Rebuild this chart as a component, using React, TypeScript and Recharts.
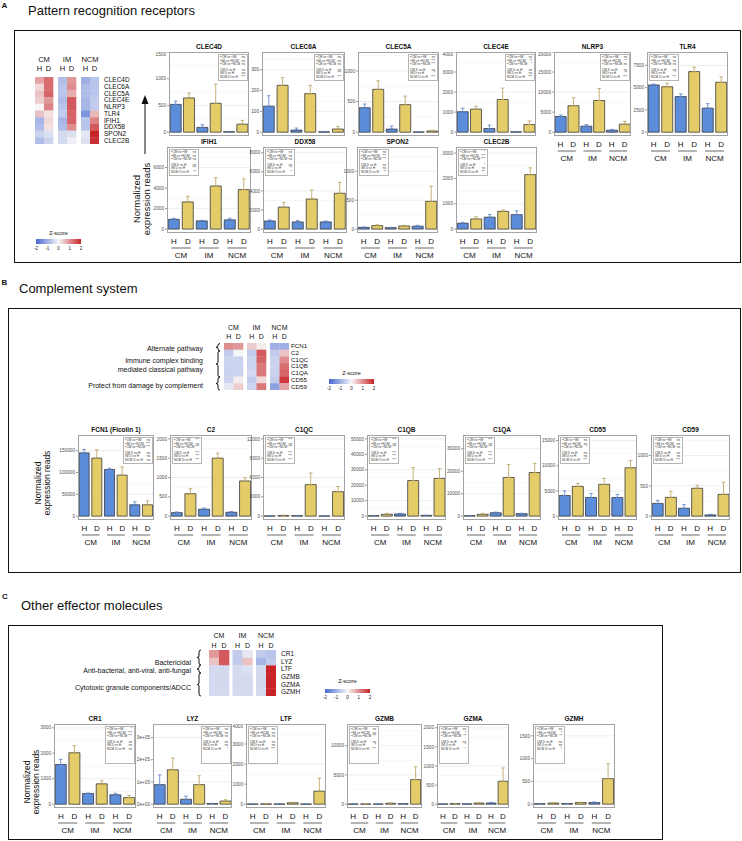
import React from 'react'
import {
  BarChart,
  Bar,
  XAxis,
  YAxis,
  ErrorBar,
  Cell,
  CartesianGrid,
  ScatterChart,
  Scatter,
} from 'recharts'

const FONT = '"Liberation Sans", Arial, Helvetica, sans-serif'
const BLUE = '#5b8ddb'
const GOLD = '#e4cd69'

const groups = ['CM', 'IM', 'NCM']
const conditions = ['H', 'D']
const statLabels = ['ᴰCM vs ᴰIM', 'ᴰIM vs ᴰNCM', 'ᴰCM vs ᴰNCM', 'CM D vs H', 'IM D vs H', 'NCM D vs H']

// ---- A: pattern recognition receptors ----
const prrGenes = ['CLEC4D', 'CLEC6A', 'CLEC5A', 'CLEC4E', 'NLRP3', 'TLR4', 'IFIH1', 'DDX58', 'SPON2', 'CLEC2B']
const prrZ = [
  [0.8, 1.3, -0.8, 0.9, -1.0, -0.7],
  [0.3, 1.3, -0.7, 1.0, -0.8, -0.7],
  [0.5, 1.4, -0.7, 0.7, -0.8, -0.7],
  [0.4, 0.9, -0.8, 1.5, -0.9, -0.6],
  [0.0, 1.1, -0.7, 1.5, -0.9, -0.6],
  [0.5, 0.2, -0.6, 1.4, -1.4, 0.6],
  [-0.9, 0.3, -0.9, 1.4, -0.7, 1.1],
  [-0.8, 0.2, -0.8, 1.0, -0.7, 1.5],
  [-0.5, -0.3, -0.4, -0.3, -0.2, 2.0],
  [-0.8, -0.5, -0.4, -0.1, -0.3, 1.9],
]
const prrMean = [
  [520, 640, 90, 540, 10, 150],
  [125, 225, 10, 185, 2, 15],
  [400, 700, 50, 450, 5, 20],
  [1020, 1150, 180, 1630, 20, 380],
  [3900, 6600, 1500, 7900, 500, 2000],
  [5300, 5100, 4000, 6800, 2700, 5600],
  [950, 2650, 800, 4200, 900, 3850],
  [850, 2300, 750, 3150, 750, 3750],
  [30, 60, 25, 55, 50, 480],
  [230, 400, 470, 700, 570, 2150],
]
const prrSe = [
  [60, 90, 50, 360, 5, 70],
  [50, 37, 10, 40, 2, 13],
  [60, 140, 50, 140, 3, 10],
  [180, 150, 170, 570, 10, 180],
  [400, 2000, 400, 3000, 200, 700],
  [100, 400, 300, 500, 500, 600],
  [100, 550, 50, 800, 150, 1050],
  [100, 500, 150, 950, 100, 1150],
  [5, 15, 5, 10, 15, 260],
  [40, 80, 110, 50, 150, 270],
]
const prrTicks = [
  [0, 500, 1000, 1500],
  [0, 100, 200, 300],
  [0, 500, 1000],
  [0, 1000, 2000, 3000, 4000],
  [0, 5000, 10000, 15000, 20000],
  [0, 2500, 5000, 7500],
  [0, 2000, 4000, 6000],
  [0, 2000, 4000, 6000, 8000],
  [0, 500, 1000],
  [0, 1000, 2000, 3000],
]
const prrTop = [1500, 385, 1310, 4000, 20000, 9000, 8000, 8600, 1420, 3240]
const prrStats = [
  ['ns', 'ns', 'ns', 'ns', 'ns', '***'],
  ['ns', 'ns', 'ns', 'ns', '***', '***'],
  ['ns', '***', '***', 'ns', '*', '***'],
  ['ns', '**', '*', 'ns', 'ns', '***'],
  ['ns', '**', 'ns', 'ns', '**', '***'],
  ['ns', 'ns', 'ns', 'ns', '*', '***'],
  ['ns', 'ns', 'ns', 'ns', '***', '**'],
  ['ns', 'ns', 'ns', 'ns', '**', '*'],
  ['ns', '***', '***', 'ns', 'ns', '**'],
  ['*', '***', '***', '*', 'ns', '***'],
]

// ---- B: complement system ----
const compGenes = ['FCN1', 'C2', 'C1QC', 'C1QB', 'C1QA', 'CD55', 'CD59']
const compTitles = ['FCN1 (Ficolin 1)', 'C2', 'C1QC', 'C1QB', 'C1QA', 'CD55', 'CD59']
const compZ = [
  [1.0, 0.9, 0.4, 0.1, -1.0, -1.0],
  [-0.6, 0.0, -0.6, 1.5, -0.6, 0.5],
  [-0.5, -0.5, -0.5, 1.4, -0.5, 1.0],
  [-0.5, -0.5, -0.5, 1.2, -0.5, 1.3],
  [-0.5, -0.5, -0.4, 1.2, -0.5, 1.4],
  [-0.5, 0.1, -0.6, 0.3, -0.6, 1.8],
  [-0.2, 0.4, -0.5, 1.2, -1.2, 0.8],
]
const compMean = [
  [145000, 133000, 107000, 94000, 26000, 26000],
  [90, 580, 180, 1500, 100, 910],
  [30, 100, 80, 4900, 30, 3800],
  [300, 1200, 1400, 23000, 500, 24400],
  [200, 800, 1500, 17200, 1100, 19400],
  [4100, 5900, 3700, 6300, 3700, 9600],
  [210, 310, 130, 460, 20, 360],
]
const compSe = [
  [8000, 19000, 3000, 19000, 7000, 9000],
  [20, 130, 30, 130, 20, 80],
  [10, 60, 20, 1800, 10, 800],
  [100, 600, 400, 8400, 100, 6400],
  [50, 400, 300, 5800, 200, 4100],
  [900, 600, 800, 1200, 600, 1400],
  [50, 100, 60, 50, 10, 200],
]
const compTicks = [
  [0, 50000, 100000, 150000],
  [0, 500, 1000, 1500, 2000],
  [0, 3000, 6000, 9000, 12000],
  [0, 10000, 20000, 30000, 40000, 50000],
  [0, 10000, 20000, 30000],
  [0, 5000, 10000, 15000],
  [0, 500, 1000],
]
const compTop = [186000, 2100, 12600, 52500, 36100, 16100, 1340]
const compStats = [
  ['ns', '***', '***', 'ns', 'ns', 'ns'],
  ['***', 'ns', '***', '***', '***', '***'],
  ['***', 'ns', '***', '***', '***', '***'],
  ['***', 'ns', '***', '***', '***', '***'],
  ['***', 'ns', '***', '***', '***', '***'],
  ['ns', 'ns', '*', 'ns', 'ns', '***'],
  ['ns', 'ns', 'ns', 'ns', 'ns', '***'],
]

// ---- C: other effector molecules ----
const effGenes = ['CR1', 'LYZ', 'LTF', 'GZMB', 'GZMA', 'GZMH']
const effZ = [
  [0.9, 1.5, -0.6, -0.2, -0.6, -0.7],
  [0.5, 1.5, -0.6, 0.5, -0.9, -0.6],
  [-0.4, -0.4, -0.4, -0.3, -0.4, 2.0],
  [-0.4, -0.4, -0.4, -0.4, -0.4, 2.0],
  [-0.4, -0.4, -0.4, -0.4, -0.4, 2.0],
  [-0.4, -0.4, -0.4, -0.4, -0.4, 2.0],
]
const effMean = [
  [1560, 2020, 420, 800, 370, 260],
  [88000, 155000, 22000, 88000, 3000, 14000],
  [5, 15, 10, 70, 5, 650],
  [20, 40, 30, 150, 80, 4200],
  [5, 15, 8, 30, 30, 600],
  [10, 25, 15, 35, 35, 560],
]
const effSe = [
  [200, 280, 20, 120, 60, 80],
  [44000, 53000, 14000, 40000, 1000, 6000],
  [2, 5, 3, 20, 2, 650],
  [10, 20, 10, 60, 30, 2200],
  [2, 5, 3, 10, 10, 350],
  [3, 5, 3, 8, 15, 330],
]
const effTicks = [
  [0, 1000, 2000, 3000],
  [0, 100000, 200000, 300000],
  [0, 1000, 2000, 3000, 4000],
  [0, 5000, 10000],
  [0, 500, 1000, 1500, 2000],
  [0, 500, 1000, 1500],
]
const effTop = [3150, 361000, 4000, 13700, 2100, 1760]
const effStats = [
  ['*', '***', '***', 'ns', 'ns', 'ns'],
  ['ns', 'ns', 'ns', 'ns', 'ns', '*'],
  ['ns', 'ns', 'ns', 'ns', 'ns', '***'],
  ['ns', 'ns', '***', 'ns', '*', '***'],
  ['ns', '*', '**', 'ns', '*', '*'],
  ['ns', '*', '**', 'ns', 'ns', '*'],
]

// plot-area boxes (layout only)
const prrBoxes = [
  { x: 169, y: 52, w: 80, h: 84, showX: false, leg: 'right' },
  { x: 262, y: 52, w: 83, h: 84, showX: false, leg: 'right' },
  { x: 358, y: 52, w: 81, h: 84, showX: false, leg: 'right' },
  { x: 456, y: 52, w: 80, h: 84, showX: false, leg: 'right' },
  { x: 554, y: 52, w: 77, h: 84, showX: true, leg: 'right' },
  { x: 647, y: 52, w: 81, h: 84, showX: true, leg: 'left' },
  { x: 167, y: 147, w: 84, h: 86, showX: true, leg: 'left' },
  { x: 263, y: 147, w: 84, h: 86, showX: true, leg: 'left' },
  { x: 357, y: 147, w: 81, h: 86, showX: true, leg: 'left' },
  { x: 456, y: 147, w: 81, h: 86, showX: true, leg: 'left' },
]
const compBoxes = [
  { x: 78, w: 76, leg: 'right' },
  { x: 170, w: 82, leg: 'left' },
  { x: 263, w: 82, leg: 'left' },
  { x: 367, w: 79, leg: 'left' },
  { x: 463, w: 78, leg: 'left' },
  { x: 558, w: 79, leg: 'left' },
  { x: 651, w: 79, leg: 'left' },
].map((b) => ({ ...b, y: 435, h: 85, showX: true }))
const effBoxes = [
  { x: 54, w: 82, leg: 'right' },
  { x: 153, w: 79, leg: 'right' },
  { x: 246, w: 80, leg: 'left' },
  { x: 347, w: 75, leg: 'left' },
  { x: 437, w: 72, leg: 'left' },
  { x: 533, w: 82, leg: 'left' },
].map((b) => ({ ...b, y: 724, h: 84, showX: true }))

const LO = [72, 104, 212]
const MID = [246, 246, 246]
const HI = [200, 36, 40]
function zColor(z: number) {
  const t = Math.max(-2, Math.min(2, z)) / 2
  const end = t < 0 ? LO : HI
  const a = Math.abs(t)
  const c = MID.map((m, i) => Math.round(m + (end[i] - m) * a))
  return `rgb(${c[0]},${c[1]},${c[2]})`
}

function T({ x, y, size, children, anchor = 'middle', bold = false, color = '#111', rotate = false }: any) {
  const tx = anchor === 'middle' ? '-50%' : anchor === 'end' ? '-100%' : '0'
  return (
    <div
      style={{
        position: 'absolute',
        left: x,
        top: y,
        fontSize: size,
        fontFamily: FONT,
        fontWeight: bold ? 700 : 400,
        color,
        whiteSpace: 'nowrap',
        lineHeight: 1,
        transform: rotate ? 'translate(-50%,-50%) rotate(-90deg)' : `translate(${tx},-50%)`,
      }}
    >
      {children}
    </div>
  )
}

function XTick({ x, payload, plotBottom, band }: any) {
  const [g, c] = String(payload.value).split(' ')
  const gx = x - band / 2
  return (
    <g fontFamily={FONT}>
      <text x={x} y={plotBottom + 11} fontSize={8} textAnchor="middle" fill="#111">
        {c}
      </text>
      {c === 'D' && (
        <>
          <line x1={gx - band * 0.7} x2={gx + band * 0.7} y1={plotBottom + 15} y2={plotBottom + 15} stroke="#8c8c8c" strokeWidth={1.3} />
          <text x={gx} y={plotBottom + 25} fontSize={8} textAnchor="middle" fill="#111">
            {g}
          </text>
        </>
      )}
    </g>
  )
}

function StatsBox({ stats, box, h }: any) {
  const w = 30
  const left = box.leg === 'right' ? box.x + box.w - w - 1.5 : box.x + 1.5
  return (
    <div
      style={{
        position: 'absolute',
        left,
        top: box.y + 1.5,
        width: w,
        height: h,
        background: '#fff',
        border: '0.6px solid #b5b5b5',
        boxSizing: 'border-box',
        fontFamily: FONT,
        fontSize: 3.2,
        color: '#333',
        padding: '1.5px 1.5px',
      }}
    >
      {statLabels.map((l, i) => (
        <div key={l} style={{ display: 'flex', justifyContent: 'space-between', lineHeight: '3.6px', marginTop: i === 3 ? 2 : 0 }}>
          <span>{l}</span>
          <span>{stats[i]}</span>
        </div>
      ))}
    </div>
  )
}

function MiniBar({ title, mean, se, ticks, top, stats, box, legH, fmt }: any) {
  const axisW = 30
  const xH = box.showX ? 30 : 0
  const band = box.w / 6
  const data: any[] = []
  groups.forEach((g, gi) =>
    conditions.forEach((c, ci) => {
      const i = gi * 2 + ci
      data.push({
        key: `${g} ${c}`,
        value: mean[i],
        errH: c === 'H' ? [0, se[i]] : undefined,
        errD: c === 'D' ? [0, se[i]] : undefined,
      })
    }),
  )
  const step = ticks[1] - ticks[0]
  const minor = ticks.map((t: number) => t + step / 2).filter((v: number) => v < top)
  return (
    <>
      <div style={{ position: 'absolute', left: box.x - axisW, top: box.y }}>
        <BarChart
          width={axisW + box.w}
          height={box.h + xH}
          data={data}
          margin={{ top: 0, right: 0, bottom: 0, left: 0 }}
          barCategoryGap="9%"
        >
          <CartesianGrid horizontal vertical={false} horizontalValues={minor} stroke="#f2f2f2" strokeWidth={0.6} />
          <CartesianGrid horizontal vertical={false} horizontalValues={ticks} stroke="#e3e3e3" strokeWidth={0.6} />
          <XAxis
            dataKey="key"
            hide={!box.showX}
            height={xH}
            interval={0}
            axisLine={false}
            tickLine={false}
            tick={(p: any) => <XTick {...p} plotBottom={box.h} band={band} />}
          />
          <YAxis
            type="number"
            domain={[-top / 21, top]}
            allowDataOverflow
            ticks={ticks}
            width={axisW}
            tickSize={2}
            tickMargin={1}
            axisLine={false}
            tick={{ fontSize: 4.7, fill: '#4d4d4d', fontFamily: FONT }}
            tickLine={{ stroke: '#555', strokeWidth: 0.6 }}
            tickFormatter={fmt}
          />
          <Bar dataKey="value" isAnimationActive={false} stroke="#3a3a3a" strokeWidth={0.8}>
            {data.map((d) => (
              <Cell key={d.key} fill={d.key.endsWith('H') ? BLUE : GOLD} />
            ))}
            <ErrorBar dataKey="errH" width={1.8} stroke="#5b7fc9" strokeWidth={0.8} />
            <ErrorBar dataKey="errD" width={1.8} stroke="#b59f58" strokeWidth={0.8} />
          </Bar>
        </BarChart>
      </div>
      <div
        style={{
          position: 'absolute',
          left: box.x,
          top: box.y,
          width: box.w,
          height: box.h,
          border: '1px solid #a3a3a3',
          boxSizing: 'border-box',
        }}
      />
      <T x={box.x + box.w / 2} y={box.y - 5} size={6.5} bold>
        {title}
      </T>
      <StatsBox stats={stats} box={box} h={legH} />
    </>
  )
}

function Heatmap({ genes, z, left, top, cellW, cellH, gap, labelX, labelSize, headSize, headY, hdY }: any) {
  const gapU = gap / cellW
  const units = 6 + 2 * gapU
  const cells: any[] = []
  z.forEach((row: number[], r: number) =>
    row.forEach((v, i) =>
      cells.push({ col: Math.floor(i / 2) * (2 + gapU) + (i % 2) + 0.5, row: r + 0.5, z: v }),
    ),
  )
  return (
    <>
      <div style={{ position: 'absolute', left, top }}>
        <ScatterChart width={cellW * units} height={cellH * genes.length} margin={{ top: 0, right: 0, bottom: 0, left: 0 }}>
          <XAxis type="number" dataKey="col" domain={[0, units]} allowDataOverflow hide />
          <YAxis type="number" dataKey="row" domain={[0, genes.length]} allowDataOverflow reversed hide />
          <Scatter
            data={cells}
            isAnimationActive={false}
            shape={(p: any) => (
              <rect x={p.cx - cellW / 2} y={p.cy - cellH / 2} width={cellW + 0.3} height={cellH + 0.3} fill={zColor(p.payload.z)} />
            )}
          />
        </ScatterChart>
      </div>
      {groups.map((g, gi) => {
        const gl = left + gi * (2 * cellW + gap)
        return (
          <React.Fragment key={g}>
            <T x={gl + cellW} y={headY} size={headSize}>
              {g}
            </T>
            {conditions.map((c, ci) => (
              <T key={c} x={gl + ci * cellW + cellW / 2} y={hdY} size={headSize}>
                {c}
              </T>
            ))}
          </React.Fragment>
        )
      })}
      {genes.map((g: string, r: number) => (
        <T key={g} x={labelX} y={top + (r + 0.5) * cellH} size={labelSize} anchor="start">
          {g}
        </T>
      ))}
    </>
  )
}

function ZLegend({ x0, x1, y0, y1, labelY, tickY }: any) {
  const vals = [-2, -1, 0, 1, 2]
  return (
    <>
      <T x={(x0 + x1) / 2} y={labelY} size={5.5}>
        Z-score
      </T>
      <div
        style={{
          position: 'absolute',
          left: x0,
          top: y0,
          width: x1 - x0,
          height: y1 - y0,
          background: `linear-gradient(to right, ${zColor(-2)}, ${zColor(0)}, ${zColor(2)})`,
        }}
      />
      {vals.map((v) => (
        <T key={v} x={x0 + ((v + 2) / 4) * (x1 - x0)} y={tickY} size={4.5}>
          {v}
        </T>
      ))}
    </>
  )
}

function brace(x: number, y0: number, y1: number) {
  const m = (y0 + y1) / 2
  return `M ${x + 4} ${y0} Q ${x + 2} ${y0} ${x + 2} ${y0 + 2} L ${x + 2} ${m - 1.5} Q ${x + 2} ${m} ${x} ${m} Q ${x + 2} ${m} ${x + 2} ${m + 1.5} L ${x + 2} ${y1 - 2} Q ${x + 2} ${y1} ${x + 4} ${y1}`
}

function PanelBox({ x0, y0, x1, y1 }: any) {
  return (
    <div
      style={{
        position: 'absolute',
        left: x0,
        top: y0,
        width: x1 - x0,
        height: y1 - y0,
        border: '1.5px solid #111',
        boxSizing: 'border-box',
      }}
    />
  )
}

const sci = (v: number) => (v === 0 ? '0e+00' : `${v / 100000}e+05`)

export default function App() {
  return (
    <div
      style={{
        position: 'absolute',
        left: 0,
        top: 0,
        width: 742,
        height: 841,
        background: '#fff',
        overflow: 'hidden',
        fontFamily: FONT,
      }}
    >
      <svg width={742} height={841} style={{ position: 'absolute', left: 0, top: 0 }}>
        {/* arrow in A */}
        <line x1={145} x2={145} y1={102} y2={154} stroke="#111" strokeWidth={1} />
        <path d="M 141.5 104 L 145 95 L 148.5 104 Z" fill="#111" />
        {/* braces B */}
        <g fill="none" stroke="#111" strokeWidth={1}>
          <path d={brace(216, 343.5, 351)} />
          <path d={brace(216, 351, 377)} />
          <path d={brace(216, 377, 390)} />
          <path d={brace(197, 650, 665)} />
          <path d={brace(197, 665, 673)} />
          <path d={brace(197, 673, 696)} />
        </g>
      </svg>

      {/* ---------- A ---------- */}
      <T x={1.5} y={6} size={8} bold anchor="start">
        A
      </T>
      <T x={28} y={9.5} size={13} anchor="start">
        Pattern recognition receptors
      </T>
      <PanelBox x0={14} y0={30} x1={741} y1={263} />
      <Heatmap
        genes={prrGenes}
        z={prrZ}
        left={35}
        top={77}
        cellW={9}
        cellH={6.7}
        gap={5}
        labelX={104}
        labelSize={6.5}
        headSize={7.5}
        headY={60}
        hdY={69}
      />
      <ZLegend x0={36} x1={81} y0={239} y1={244} labelY={234} tickY={248.5} />
      <T x={137} y={199} size={9.5} rotate>
        Normalized
      </T>
      <T x={147} y={199} size={9.5} rotate>
        expression reads
      </T>
      {prrGenes.map((g, i) => (
        <MiniBar
          key={g}
          title={g}
          mean={prrMean[i]}
          se={prrSe[i]}
          ticks={prrTicks[i]}
          top={prrTop[i]}
          stats={prrStats[i]}
          box={prrBoxes[i]}
          legH={27}
        />
      ))}

      {/* ---------- B ---------- */}
      <T x={1.5} y={283} size={8} bold anchor="start">
        B
      </T>
      <T x={19} y={288} size={13} anchor="start">
        Complement system
      </T>
      <PanelBox x0={8} y0={308} x1={741} y1={573} />
      <Heatmap
        genes={compGenes}
        z={compZ}
        left={224}
        top={343}
        cellW={9.5}
        cellH={6.7}
        gap={4}
        labelX={291}
        labelSize={6.2}
        headSize={7}
        headY={327}
        hdY={335.5}
      />
      <T x={203} y={348} size={7} anchor="end">
        Alternate pathway
      </T>
      <T x={203} y={360} size={7} anchor="end">
        Immune complex binding
      </T>
      <T x={203} y={369} size={7} anchor="end">
        mediated classical pathway
      </T>
      <T x={203} y={385} size={7} anchor="end">
        Protect from damage by complement
      </T>
      <ZLegend x0={329} x1={374} y0={379} y1={384} labelY={374} tickY={388.5} />
      <T x={38} y={483} size={8.5} rotate>
        Normalized
      </T>
      <T x={47} y={483} size={8.5} rotate>
        expression reads
      </T>
      {compGenes.map((g, i) => (
        <MiniBar
          key={g}
          title={compTitles[i]}
          mean={compMean[i]}
          se={compSe[i]}
          ticks={compTicks[i]}
          top={compTop[i]}
          stats={compStats[i]}
          box={compBoxes[i]}
          legH={27}
        />
      ))}

      {/* ---------- C ---------- */}
      <T x={2} y={597} size={8} bold anchor="start">
        C
      </T>
      <T x={21} y={605} size={13} anchor="start">
        Other effector molecules
      </T>
      <PanelBox x0={8} y0={625} x1={663} y1={840} />
      <Heatmap
        genes={effGenes}
        z={effZ}
        left={209}
        top={650}
        cellW={10}
        cellH={7.7}
        gap={3.5}
        labelX={281}
        labelSize={6.5}
        headSize={7}
        headY={635}
        hdY={644.5}
      />
      <T x={191} y={662} size={7} anchor="end">
        Bactericidal
      </T>
      <T x={191} y={670} size={7} anchor="end">
        Anti-bacterial, anti-viral, anti-fungal
      </T>
      <T x={191} y={687} size={7} anchor="end">
        Cytotoxic granule components/ADCC
      </T>
      <ZLegend x0={325} x1={370} y0={689} y1={693} labelY={682} tickY={697.5} />
      <T x={27} y={782} size={8.5} rotate>
        Normalized
      </T>
      <T x={36} y={782} size={8.5} rotate>
        expression reads
      </T>
      {effGenes.map((g, i) => (
        <MiniBar
          key={g}
          title={g}
          mean={effMean[i]}
          se={effSe[i]}
          ticks={effTicks[i]}
          top={effTop[i]}
          stats={effStats[i]}
          box={effBoxes[i]}
          legH={38}
          fmt={g === 'LYZ' ? sci : undefined}
        />
      ))}
    </div>
  )
}
